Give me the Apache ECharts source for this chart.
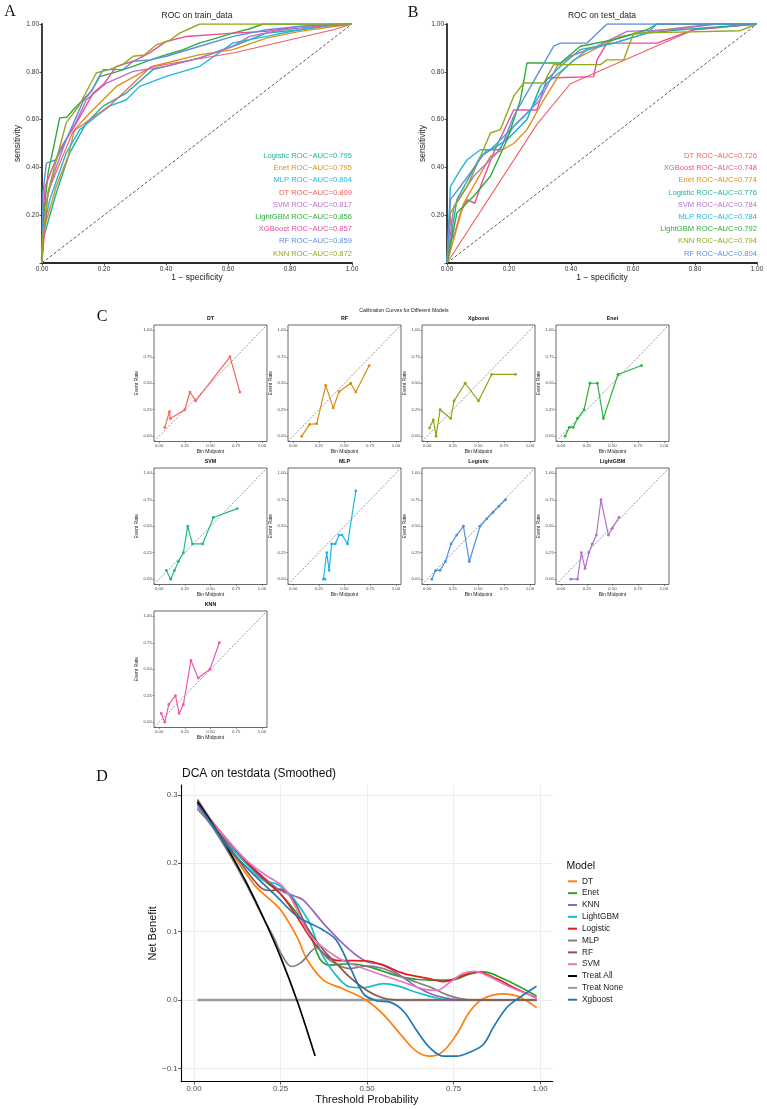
<!DOCTYPE html>
<html><head><meta charset="utf-8">
<script src="https://cdn.jsdelivr.net/npm/echarts@6/dist/echarts.min.js"></script>
<style>html,body{margin:0;padding:0;background:#fff}#c{width:767px;height:1109px}</style>
</head><body><div id="c"></div><script>
// ---------------- DATA ----------------
// Panel A: ROC on train_data (label order, bottom-up as in the picture)
const trainModels = ['Logistic','Enet','MLP','DT','SVM','LightGBM','XGBoost','RF','KNN'];
const trainAUC = [0.795,0.795,0.804,0.809,0.817,0.856,0.857,0.859,0.872];
const trainLogistic = [[0,0],[0.003,0.098],[0.046,0.293],[0.089,0.46],[0.143,0.586],[0.197,0.656],[0.272,0.711],[0.358,0.809],[0.509,0.858],[0.616,0.907],[0.724,0.962],[0.831,0.976],[0.949,0.997],[1,1]];
const trainEnet = [[0,0],[0.003,0.126],[0.046,0.321],[0.084,0.446],[0.105,0.558],[0.154,0.628],[0.24,0.739],[0.358,0.823],[0.509,0.872],[0.616,0.893],[0.724,0.941],[0.831,0.969],[1,1]];
const trainMLP = [[0,0],[0.003,0.126],[0.025,0.265],[0.078,0.46],[0.122,0.558],[0.175,0.614],[0.218,0.656],[0.272,0.683],[0.315,0.739],[0.401,0.781],[0.509,0.823],[0.616,0.921],[0.724,0.948],[0.831,0.976],[0.939,0.997],[1,1]];
const trainDT = [[0,0],[0.02,0.3],[0.1,0.55],[0.22,0.66],[0.35,0.82],[0.62,0.88],[0.94,0.976],[1,1]];
const trainSVM = [[0,0],[0.009,0.237],[0.04,0.38],[0.078,0.516],[0.11,0.59],[0.143,0.683],[0.208,0.753],[0.294,0.802],[0.401,0.823],[0.509,0.858],[0.616,0.907],[0.67,0.948],[0.777,0.976],[0.885,0.99],[1,1]];
const trainLightGBM = [[0,0],[0.005,0.2],[0.02,0.38],[0.04,0.5],[0.057,0.607],[0.08,0.61],[0.1,0.64],[0.13,0.68],[0.16,0.72],[0.186,0.78],[0.24,0.8],[0.294,0.823],[0.35,0.85],[0.401,0.872],[0.45,0.89],[0.509,0.921],[0.56,0.94],[0.616,0.962],[0.67,0.98],[0.713,1],[1,1]];
const trainXGBoost = [[0,0],[0.003,0.2],[0.01,0.32],[0.057,0.474],[0.111,0.586],[0.165,0.711],[0.2,0.75],[0.24,0.823],[0.294,0.844],[0.347,0.879],[0.401,0.927],[0.466,0.948],[0.616,0.962],[0.724,0.969],[0.831,0.99],[1,1]];
const trainRF = [[0,0],[0.003,0.293],[0.014,0.418],[0.046,0.432],[0.078,0.516],[0.1,0.58],[0.132,0.676],[0.16,0.72],[0.197,0.809],[0.261,0.809],[0.294,0.844],[0.35,0.85],[0.401,0.865],[0.509,0.907],[0.616,0.948],[0.724,0.976],[0.831,0.99],[0.949,1],[1,1]];
const trainKNN = [[0,0],[0.003,0.12],[0.02,0.3],[0.05,0.45],[0.078,0.586],[0.12,0.66],[0.175,0.795],[0.218,0.81],[0.26,0.83],[0.294,0.865],[0.33,0.87],[0.369,0.913],[0.41,0.93],[0.444,0.962],[0.509,1],[1,1]];

// Panel B: ROC on test_data
const testModels = ['DT','XGBoost','Enet','Logistic','SVM','MLP','LightGBM','KNN','RF'];
const testAUC = [0.726,0.748,0.774,0.776,0.784,0.784,0.792,0.794,0.804];
const testDT = [[0,0],[0.29,0.58],[0.398,0.75],[0.796,0.976],[1,1]];
const testXGBoost = [[0,0],[0.011,0.195],[0.02,0.1],[0.043,0.21],[0.065,0.265],[0.09,0.25],[0.108,0.32],[0.15,0.46],[0.215,0.64],[0.29,0.64],[0.323,0.774],[0.473,0.78],[0.484,0.85],[0.516,0.92],[0.677,0.92],[0.796,0.976],[1,1]];
const testEnet = [[0,0],[0.054,0.25],[0.14,0.446],[0.215,0.5],[0.258,0.558],[0.312,0.683],[0.366,0.795],[0.409,0.85],[0.473,0.893],[0.559,0.948],[0.699,0.976],[0.86,1],[1,1]];
const testLogistic = [[0,0],[0.032,0.265],[0.108,0.446],[0.194,0.516],[0.258,0.6],[0.301,0.739],[0.366,0.823],[0.43,0.893],[0.538,0.92],[0.645,0.962],[0.753,0.976],[1,1]];
const testSVM = [[0,0],[0.022,0.237],[0.086,0.363],[0.161,0.46],[0.215,0.572],[0.301,0.683],[0.355,0.823],[0.398,0.865],[0.484,0.907],[0.581,0.969],[0.72,0.976],[0.871,1],[1,1]];
const testMLP = [[0,0],[0.011,0.32],[0.043,0.39],[0.065,0.432],[0.108,0.474],[0.14,0.474],[0.194,0.544],[0.269,0.64],[0.323,0.753],[0.387,0.823],[0.452,0.893],[0.538,0.92],[0.645,0.962],[0.677,1],[1,1]];
const testLightGBM = [[0,0],[0.032,0.21],[0.086,0.279],[0.14,0.363],[0.194,0.516],[0.237,0.683],[0.258,0.837],[0.366,0.837],[0.43,0.907],[0.538,0.934],[0.645,0.976],[0.677,1],[1,1]];
const testKNN = [[0,0],[0.011,0.21],[0.065,0.32],[0.108,0.446],[0.14,0.544],[0.172,0.558],[0.215,0.697],[0.247,0.753],[0.312,0.753],[0.344,0.83],[0.495,0.83],[0.516,0.85],[0.57,0.85],[0.602,0.962],[0.946,0.972],[1,1]];
const testRF = [[0,0],[0.011,0.265],[0.043,0.32],[0.075,0.377],[0.129,0.474],[0.172,0.474],[0.215,0.614],[0.301,0.809],[0.344,0.907],[0.366,0.92],[0.452,0.92],[0.516,1],[1,1]];

// Panel C: calibration curves [bin midpoint, event rate]
const calModels = ['DT','RF','Xgboost','Enet','SVM','MLP','Logistic','LightGBM','KNN'];
const calDT = [[0.055,0.083],[0.10,0.231],[0.11,0.167],[0.25,0.25],[0.30,0.417],[0.356,0.333],[0.69,0.75],[0.786,0.417]];
const calRF = [[0.084,0],[0.16,0.111],[0.23,0.118],[0.317,0.48],[0.39,0.267],[0.447,0.42],[0.56,0.5],[0.61,0.417],[0.74,0.667]];
const calXgboost = [[0.023,0.077],[0.06,0.154],[0.087,0],[0.126,0.25],[0.23,0.167],[0.262,0.333],[0.37,0.5],[0.5,0.333],[0.628,0.583],[0.86,0.583]];
const calEnet = [[0.039,0],[0.078,0.083],[0.117,0.083],[0.159,0.167],[0.223,0.25],[0.28,0.5],[0.353,0.5],[0.411,0.167],[0.553,0.583],[0.783,0.667]];
const calSVM = [[0.07,0.083],[0.113,0],[0.149,0.083],[0.188,0.167],[0.236,0.25],[0.278,0.5],[0.324,0.333],[0.424,0.333],[0.528,0.583],[0.76,0.667]];
const calMLP = [[0.295,0],[0.31,0],[0.327,0.25],[0.35,0.083],[0.375,0.333],[0.41,0.333],[0.447,0.417],[0.476,0.417],[0.53,0.333],[0.61,0.833]];
const calLogistic = [[0.045,0],[0.084,0.083],[0.126,0.083],[0.178,0.167],[0.233,0.333],[0.288,0.417],[0.353,0.5],[0.411,0.167],[0.515,0.5],[0.58,0.57],[0.64,0.63],[0.70,0.69],[0.764,0.75]];
const calLightGBM = [[0.094,0],[0.159,0],[0.197,0.25],[0.233,0.1],[0.27,0.25],[0.304,0.333],[0.343,0.417],[0.388,0.75],[0.46,0.417],[0.498,0.48],[0.563,0.583]];
const calKNN = [[0.02,0.083],[0.055,0],[0.094,0.167],[0.159,0.25],[0.194,0.083],[0.236,0.167],[0.31,0.583],[0.38,0.417],[0.495,0.5],[0.586,0.75]];
const calTicks = [0,0.25,0.5,0.75,1];

// Panel D: decision curves [threshold, net benefit]
const dcaNames = ['DT','Enet','KNN','LightGBM','Logistic','MLP','RF','SVM','Treat All','Treat None','Xgboost'];
const dcaDT = [[0.01,0.290],[0.05,0.258],[0.10,0.222],[0.15,0.185],[0.18,0.165],[0.21,0.151],[0.25,0.132],[0.297,0.093],[0.326,0.060],[0.374,0.029],[0.432,0.016],[0.50,-0.001],[0.547,-0.021],[0.605,-0.055],[0.643,-0.075],[0.682,-0.082],[0.72,-0.075],[0.759,-0.050],[0.798,-0.016],[0.836,0.002],[0.894,0.009],[0.933,0.006],[0.961,-0.001],[0.99,-0.011]];
const dcaEnet = [[0.01,0.286],[0.05,0.26],[0.10,0.228],[0.15,0.2],[0.20,0.176],[0.25,0.155],[0.30,0.125],[0.335,0.097],[0.364,0.06],[0.393,0.051],[0.451,0.053],[0.509,0.048],[0.605,0.033],[0.682,0.029],[0.74,0.029],[0.798,0.038],[0.836,0.041],[0.894,0.031],[0.99,0.006]];
const dcaKNN = [[0.01,0.279],[0.05,0.258],[0.10,0.23],[0.15,0.203],[0.20,0.18],[0.25,0.16],[0.29,0.152],[0.316,0.146],[0.383,0.107],[0.451,0.073],[0.50,0.056],[0.547,0.051],[0.605,0.033],[0.644,0.019],[0.701,0.006],[0.778,0.0],[0.99,0.0]];
const dcaLightGBM = [[0.01,0.287],[0.05,0.262],[0.10,0.228],[0.15,0.2],[0.20,0.175],[0.238,0.17],[0.27,0.158],[0.30,0.14],[0.335,0.112],[0.364,0.073],[0.403,0.041],[0.451,0.019],[0.49,0.018],[0.547,0.024],[0.586,0.021],[0.644,0.011],[0.701,0.003],[0.75,0.0],[0.99,0.0]];
const dcaLogistic = [[0.01,0.288],[0.05,0.262],[0.10,0.232],[0.15,0.203],[0.20,0.178],[0.25,0.155],[0.30,0.12],[0.335,0.092],[0.374,0.068],[0.412,0.058],[0.50,0.057],[0.547,0.051],[0.605,0.039],[0.682,0.031],[0.72,0.027],[0.778,0.036],[0.817,0.041],[0.875,0.031],[0.933,0.016],[0.99,0.003]];
const dcaMLP = [[0.01,0.28],[0.05,0.255],[0.10,0.215],[0.15,0.170],[0.20,0.12],[0.23,0.092],[0.255,0.065],[0.282,0.049],[0.31,0.055],[0.354,0.076],[0.393,0.058],[0.451,0.046],[0.50,0.05],[0.547,0.046],[0.605,0.033],[0.682,0.019],[0.74,0.006],[0.80,0.0],[0.99,0.0]];
const dcaRF = [[0.01,0.293],[0.05,0.262],[0.10,0.225],[0.15,0.19],[0.18,0.171],[0.20,0.162],[0.225,0.160],[0.25,0.162],[0.287,0.146],[0.326,0.107],[0.374,0.073],[0.412,0.053],[0.451,0.033],[0.50,0.014],[0.547,0.003],[0.60,0.0],[0.99,0.0]];
const dcaSVM = [[0.01,0.282],[0.05,0.26],[0.10,0.232],[0.15,0.205],[0.20,0.185],[0.258,0.165],[0.30,0.13],[0.335,0.095],[0.412,0.063],[0.49,0.046],[0.547,0.036],[0.605,0.026],[0.663,0.016],[0.701,0.014],[0.74,0.026],[0.778,0.039],[0.812,0.042],[0.846,0.036],[0.913,0.019],[0.99,0.004]];
const dcaTreatAll = [[0.01,0.290],[0.05,0.260],[0.10,0.219],[0.15,0.173],[0.20,0.121],[0.25,0.063],[0.30,-0.004],[0.35,-0.082]];
const dcaTreatNone = [[0.01,0],[0.99,0]];
const dcaXgboost = [[0.01,0.286],[0.05,0.258],[0.10,0.222],[0.15,0.195],[0.19,0.175],[0.238,0.152],[0.287,0.127],[0.316,0.117],[0.374,0.102],[0.412,0.087],[0.451,0.048],[0.49,0.009],[0.528,-0.001],[0.566,-0.003],[0.605,-0.016],[0.644,-0.045],[0.682,-0.07],[0.72,-0.082],[0.759,-0.082],[0.798,-0.076],[0.836,-0.065],[0.865,-0.04],[0.904,-0.011],[0.942,0.004],[0.99,0.02]];
const dcaXTicks = [0,0.25,0.5,0.75,1];
const dcaYTicks = [-0.1,0,0.1,0.2,0.3];

// ---------------- STYLE ----------------
const rocColor = {DT:'#F25F5C',Enet:'#DE8F1B',KNN:'#97A81E',LightGBM:'#2DAE3A',Logistic:'#1CB39E',MLP:'#1FB7E3',RF:'#5E8FDF',SVM:'#B571CC',XGBoost:'#EB4D9B'};
const calColor = ['#F5675F','#D68D12','#8FA813','#27B538','#1DB98E','#1BB5E2','#4E8FDB','#B170C9','#EC5AAE'];
const dcaColor = ['#FF7F0E','#2CA02C','#9467BD','#17BECF','#E41A1C','#7F7F7F','#8C564B','#E377C2','#000000','#999999','#1F77B4'];
const trainData = {Logistic:trainLogistic,Enet:trainEnet,MLP:trainMLP,DT:trainDT,SVM:trainSVM,LightGBM:trainLightGBM,XGBoost:trainXGBoost,RF:trainRF,KNN:trainKNN};
const testData = {DT:testDT,XGBoost:testXGBoost,Enet:testEnet,Logistic:testLogistic,SVM:testSVM,MLP:testMLP,LightGBM:testLightGBM,KNN:testKNN,RF:testRF};
const calData = [calDT,calRF,calXgboost,calEnet,calSVM,calMLP,calLogistic,calLightGBM,calKNN];
const dcaData = [dcaDT,dcaEnet,dcaKNN,dcaLightGBM,dcaLogistic,dcaMLP,dcaRF,dcaSVM,dcaTreatAll,dcaTreatNone,dcaXgboost];

const FF = '"Liberation Sans", Arial, sans-serif';
const grid = [], xAxis = [], yAxis = [], series = [], graphic = [];

// ROC panels
const rocPanels = [
  {left:42, title:'ROC on train_data', tx:197, models:trainModels, auc:trainAUC, data:trainData, tag:'A'},
  {left:447, title:'ROC on test_data', tx:602, models:testModels, auc:testAUC, data:testData, tag:'B'}
];
const rocLabelY = [155.7,168,180.3,192.6,204.8,217,229.2,241.4,253.6];
rocPanels.forEach((p, gi) => {
  grid.push({left:p.left, top:24, width:310, height:239});
  xAxis.push({gridIndex:gi, type:'value', min:0, max:1, interval:0.2,
    axisLine:{onZero:false, lineStyle:{color:'#2a2a2a', width:1.8}},
    axisTick:{length:2.5, lineStyle:{color:'#2a2a2a', width:0.8}},
    axisLabel:{fontSize:6.5, color:'#333', margin:2.5, formatter:v=>v.toFixed(2)},
    splitLine:{show:false}, name:'1 \u2212 specificity', nameLocation:'middle', nameGap:9,
    nameTextStyle:{fontSize:8.5, color:'#222'}});
  yAxis.push({gridIndex:gi, type:'value', min:0, max:1, interval:0.2,
    axisLine:{onZero:false, lineStyle:{color:'#2a2a2a', width:1.8}},
    axisTick:{length:2.5, lineStyle:{color:'#2a2a2a', width:0.8}},
    axisLabel:{fontSize:6.5, color:'#333', margin:3, formatter:v=>v===0?'':v.toFixed(2)},
    splitLine:{show:false}, name:'sensitivity', nameLocation:'middle', nameGap:15,
    nameTextStyle:{fontSize:8.5, color:'#222'}});
  series.push({type:'line', name:p.tag+' diag', xAxisIndex:gi, yAxisIndex:gi, data:[[0,0],[1,1]],
    showSymbol:false, silent:true, lineStyle:{color:'#333', width:0.8, type:[3,2]}, z:1});
  p.models.forEach((m, i) => {
    series.push({type:'line', name:p.tag+' '+m, xAxisIndex:gi, yAxisIndex:gi, data:p.data[m],
      showSymbol:false, color:rocColor[m], lineStyle:{width:m==='DT'?1.1:1.4}, z:2});
    graphic.push({type:'text', x:p.left+310, y:rocLabelY[i],
      style:{text:m+' ROC\u2212AUC='+p.auc[i].toFixed(3), fill:rocColor[m], font:'7.6px '+FF, textAlign:'right', textVerticalAlign:'middle'}});
  });
  graphic.push({type:'text', x:p.tx, y:15.5, style:{text:p.title, fill:'#222', font:'8.5px '+FF, textAlign:'center', textVerticalAlign:'middle'}});
});

// Calibration panels
const colLeft = [154, 288, 422, 556];
const rowTop = [325, 468, 611];
calModels.forEach((m, k) => {
  const gi = grid.length;
  const L = colLeft[k % 4], T = rowTop[Math.floor(k / 4)];
  grid.push({left:L, top:T, width:113, height:116.5, show:true, borderColor:'#444', borderWidth:0.8, backgroundColor:'transparent'});
  xAxis.push({gridIndex:gi, type:'value', min:-0.05, max:1.05,
    axisLine:{show:false, onZero:false},
    axisTick:{customValues:calTicks, length:1.5, lineStyle:{color:'#444', width:0.6}},
    axisLabel:{customValues:calTicks, fontSize:4.3, color:'#444', margin:2.2, formatter:v=>v.toFixed(2)},
    splitLine:{show:false}, name:'Bin Midpoint', nameLocation:'middle', nameGap:7.5,
    nameTextStyle:{fontSize:5, color:'#222'}});
  yAxis.push({gridIndex:gi, type:'value', min:-0.05, max:1.05,
    axisLine:{show:false, onZero:false},
    axisTick:{customValues:calTicks, length:1.5, lineStyle:{color:'#444', width:0.6}},
    axisLabel:{customValues:calTicks, fontSize:4.3, color:'#444', margin:2.2, formatter:v=>v.toFixed(2)},
    splitLine:{show:false}, name:'Event Rate', nameLocation:'middle', nameGap:11.5,
    nameTextStyle:{fontSize:5, color:'#222'}});
  series.push({type:'line', name:'C diag '+m, xAxisIndex:gi, yAxisIndex:gi, data:[[-0.05,-0.05],[1.05,1.05]],
    showSymbol:false, silent:true, lineStyle:{color:'#555', width:0.6, type:[2,1.5]}, z:1});
  series.push({type:'line', name:'C '+m, xAxisIndex:gi, yAxisIndex:gi, data:calData[k],
    symbol:'circle', symbolSize:2.8, showSymbol:true, color:calColor[k], lineStyle:{width:1.2}, z:2});
  graphic.push({type:'text', x:L+56.5, y:T-6.5, style:{text:m, fill:'#111', font:'bold 5.3px '+FF, textAlign:'center', textVerticalAlign:'middle'}});
});
graphic.push({type:'text', x:404, y:311, style:{text:'Calibration Curves for Different Models', fill:'#222', font:'5.2px '+FF, textAlign:'center', textVerticalAlign:'middle'}});

// DCA panel
const dg = grid.length;
grid.push({left:181, top:785, width:371.7, height:296.7});
xAxis.push({gridIndex:dg, type:'value', min:-0.0376, max:1.0367,
  axisLine:{onZero:false, lineStyle:{color:'#000', width:1.1}},
  axisTick:{customValues:dcaXTicks, length:3, lineStyle:{color:'#333', width:0.8}},
  axisLabel:{customValues:dcaXTicks, fontSize:7.8, color:'#4d4d4d', margin:3.5, formatter:v=>v.toFixed(2)},
  splitLine:{show:false}, name:'Threshold Probability', nameLocation:'middle', nameGap:11.5,
  nameTextStyle:{fontSize:11, color:'#111'}});
yAxis.push({gridIndex:dg, type:'value', min:-0.1194, max:0.3143,
  axisLine:{onZero:false, lineStyle:{color:'#000', width:1.1}},
  axisTick:{customValues:dcaYTicks, length:3, lineStyle:{color:'#333', width:0.8}},
  axisLabel:{customValues:dcaYTicks, fontSize:7.8, color:'#4d4d4d', margin:3.5, formatter:v=>(v<0?'\u2212':'')+Math.abs(v).toFixed(1)},
  splitLine:{show:false}, name:'Net Benefit', nameLocation:'middle', nameGap:17,
  nameTextStyle:{fontSize:11, color:'#111'}});
series.push({type:'line', name:'D grid', xAxisIndex:dg, yAxisIndex:dg, data:[[0,0]], showSymbol:false,
  lineStyle:{opacity:0}, silent:true, z:0,
  markLine:{silent:true, symbol:['none','none'], label:{show:false}, z:0, animation:false,
    lineStyle:{color:'#ebebeb', width:0.9, type:'solid'},
    data:dcaXTicks.map(v=>({xAxis:v})).concat(dcaYTicks.map(v=>({yAxis:v})))}});
dcaNames.forEach((m, i) => {
  series.push({type:'line', name:m, xAxisIndex:dg, yAxisIndex:dg, data:dcaData[i],
    smooth: m === 'Treat None' ? false : 0.35, showSymbol:false, color:dcaColor[i],
    lineStyle:{width: m==='Treat None' ? 2.4 : 1.7}, z: m==='Treat None' ? 2 : 3});
});
graphic.push({type:'text', x:182, y:774, style:{text:'DCA on testdata (Smoothed)', fill:'#111', font:'12px '+FF, textAlign:'left', textVerticalAlign:'middle'}});
graphic.push({type:'text', x:566.5, y:866, style:{text:'Model', fill:'#111', font:'10.5px '+FF, textAlign:'left', textVerticalAlign:'middle'}});

// Panel letters
[['A',10,12],['B',413,13],['C',102,317],['D',102,777]].forEach(([t,x,y]) => {
  graphic.push({type:'text', x:x, y:y, style:{text:t, fill:'#111', font:'16px "Liberation Serif", "Times New Roman", serif', textAlign:'center', textVerticalAlign:'middle'}});
});

const chart = echarts.init(document.getElementById('c'), null, {renderer:'canvas'});
chart.setOption({
  animation:false,
  backgroundColor:'#ffffff',
  textStyle:{fontFamily:FF},
  grid, xAxis, yAxis, series, graphic,
  legend:{data:dcaNames, orient:'vertical', left:568, top:875.4, padding:0, itemWidth:9, itemHeight:2, itemGap:0,
    icon:'rect', selectedMode:false, textStyle:{fontSize:8.3, color:'#222', lineHeight:11.84, fontFamily:FF}}
});
</script></body></html>
